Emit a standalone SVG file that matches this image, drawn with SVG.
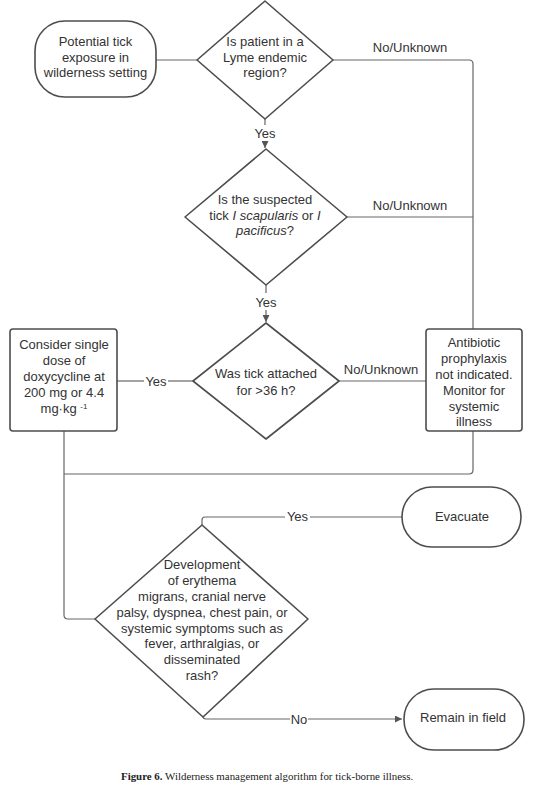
<svg xmlns="http://www.w3.org/2000/svg" width="538" height="789" viewBox="0 0 538 789">
<defs>
<marker id="arr" viewBox="0 0 10 10" refX="10" refY="5" markerWidth="10" markerHeight="7" markerUnits="userSpaceOnUse" orient="auto">
<path d="M0,0 L10,5 L0,10 z" fill="#555"/>
</marker>
<style>
.shape{fill:#fff;stroke:#4d4d4d;stroke-width:1.6;stroke-linejoin:round}
.ln{fill:none;stroke:#666;stroke-width:1.2}
.t{font-family:"Liberation Sans",Arial,sans-serif;font-size:13px;fill:#333;text-anchor:middle}
.lbl{font-family:"Liberation Sans",Arial,sans-serif;font-size:13px;fill:#333;text-anchor:middle}
.cap{font-family:"Liberation Serif","Times New Roman",serif;font-size:10.9px;fill:#222}
</style>
</defs>
<rect width="538" height="789" fill="#fff"/>

<g id="connectors">
<line class="ln" x1="156" y1="60" x2="197" y2="60"/>
<path class="ln" d="M333,60 H469 Q473,60 473,64 V329"/>
<line class="ln" x1="347" y1="217" x2="473" y2="217"/>
<line class="ln" x1="265" y1="119" x2="265" y2="125"/>
<line class="ln" x1="265" y1="141" x2="265" y2="148" marker-end="url(#arr)"/>
<line class="ln" x1="266" y1="285" x2="266" y2="293"/>
<line class="ln" x1="266" y1="310" x2="266" y2="322" marker-end="url(#arr)"/>
<line class="ln" x1="117" y1="381" x2="144" y2="381"/>
<line class="ln" x1="168" y1="381" x2="193" y2="381"/>
<line class="ln" x1="339" y1="381" x2="426" y2="381"/>
<path class="ln" d="M473,431 V470 Q473,474 469,474 H64"/>
<path class="ln" d="M64,431 V615 Q64,619 68,619 H95"/>
<path class="ln" d="M202,525 V520 Q202,517 205,517 H285"/>
<line class="ln" x1="310" y1="517" x2="402" y2="517"/>
<path class="ln" d="M203,717 V716 Q203,719 206,719 H290"/>
<line class="ln" x1="308" y1="719" x2="402" y2="719" marker-end="url(#arr)"/>
<text class="lbl" x="410" y="52">No/Unknown</text>
<text class="lbl" x="410" y="209.5">No/Unknown</text>
<text class="lbl" x="381" y="373.5">No/Unknown</text>
<text class="lbl" x="265" y="137.5">Yes</text>
<text class="lbl" x="266" y="306.5">Yes</text>
<text class="lbl" x="156" y="385.5">Yes</text>
<text class="lbl" x="297.5" y="521">Yes</text>
<text class="lbl" x="299" y="723.5">No</text>
</g>

<g id="start">
<rect class="shape" x="35" y="21" width="121" height="76" rx="30" ry="30"/>
<text class="t" x="95.5" y="45.5">Potential tick</text>
<text class="t" x="95.5" y="61.5">exposure in</text>
<text class="t" x="95.5" y="77">wilderness setting</text>
</g>

<g id="q1">
<polygon class="shape" points="265,1 333,60 265,119 197,60"/>
<text class="t" x="265" y="45.5">Is patient in a</text>
<text class="t" x="265" y="61.5">Lyme endemic</text>
<text class="t" x="265" y="77">region?</text>
</g>

<g id="q2">
<polygon class="shape" points="266,149 347,217 266,285 185,217"/>
<text class="t" x="265" y="203.5">Is the suspected</text>
<text class="t" x="265" y="219.5">tick <tspan font-style="italic">I scapularis</tspan> or <tspan font-style="italic">I</tspan></text>
<text class="t" x="265" y="235"><tspan font-style="italic">pacificus</tspan>?</text>
</g>

<g id="q3">
<polygon class="shape" points="266,323 339,381 266,439 193,381"/>
<text class="t" x="266" y="377.5">Was tick attached</text>
<text class="t" x="266" y="394.5">for &gt;36 h?</text>
</g>

<g id="doxy">
<rect class="shape" x="10" y="329" width="107" height="102" rx="3" ry="3"/>
<text class="t" x="64" y="349">Consider single</text>
<text class="t" x="64" y="365">dose of</text>
<text class="t" x="64" y="381">doxycycline at</text>
<text class="t" x="64" y="397">200 mg or 4.4</text>
<text class="t" x="64" y="413">mg·kg <tspan font-size="8" dy="-4">-1</tspan></text>
</g>

<g id="noprophylaxis">
<rect class="shape" x="426" y="329" width="96" height="102" rx="3" ry="3"/>
<text class="t" x="474" y="347">Antibiotic</text>
<text class="t" x="474" y="363">prophylaxis</text>
<text class="t" x="474" y="379">not indicated.</text>
<text class="t" x="474" y="395">Monitor for</text>
<text class="t" x="474" y="411">systemic</text>
<text class="t" x="474" y="426">illness</text>
</g>

<g id="q4">
<polygon class="shape" points="202,525 308,619 203,717 95,619"/>
<text class="t" x="202" y="568.5">Development</text>
<text class="t" x="202" y="584.5">of erythema</text>
<text class="t" x="202" y="600.5">migrans, cranial nerve</text>
<text class="t" x="202" y="616.5">palsy, dyspnea, chest pain, or</text>
<text class="t" x="202" y="632.5">systemic symptoms such as</text>
<text class="t" x="202" y="648">fever, arthralgias, or</text>
<text class="t" x="202" y="664">disseminated</text>
<text class="t" x="202" y="679.5">rash?</text>
</g>

<g id="evacuate">
<rect class="shape" x="402" y="487" width="119" height="60" rx="30" ry="30"/>
<text class="t" x="462" y="520.5">Evacuate</text>
</g>

<g id="remain">
<rect class="shape" x="404" y="689" width="120" height="61" rx="30" ry="30"/>
<text class="t" x="463" y="721.5">Remain in field</text>
</g>

<text class="cap" x="121" y="779.5"><tspan font-weight="bold">Figure 6.</tspan> Wilderness management algorithm for tick-borne illness.</text>
</svg>
